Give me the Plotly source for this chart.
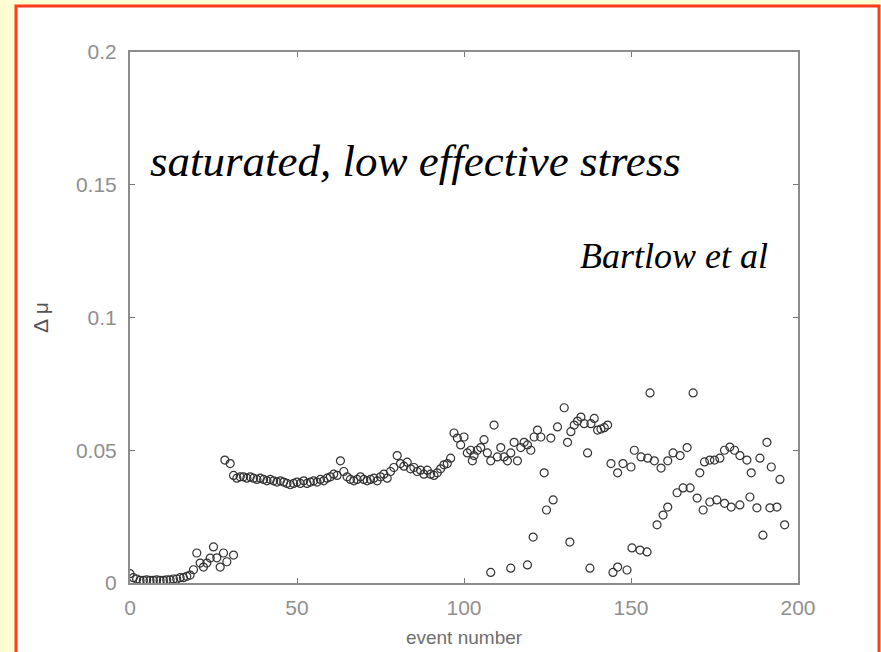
import plotly.graph_objects as go

# ---- data ----
early_x = list(range(0, 19))
early_y = [0.0035, 0.002, 0.0015, 0.001, 0.001, 0.0012, 0.001, 0.001, 0.0012, 0.001,
           0.001, 0.0012, 0.0012, 0.0015, 0.0015, 0.002, 0.002, 0.0025, 0.003]

rise_x = [19, 20, 21, 22, 23, 24, 25, 26, 27, 28, 29, 31]
rise_y = [0.005, 0.0113, 0.0075, 0.006, 0.0075, 0.0094, 0.0136, 0.0095, 0.006, 0.0113, 0.008, 0.0105]

plateau_x = [28.4, 30] + list(range(31, 102))
plateau_y = [0.0463, 0.045,
             0.0405, 0.0395, 0.040, 0.040, 0.0395, 0.040, 0.0395, 0.039, 0.0395, 0.039,
             0.0385, 0.039, 0.0385, 0.038, 0.0385, 0.038, 0.0375, 0.037, 0.0375, 0.038,
             0.0375, 0.0385, 0.0375, 0.038, 0.0385, 0.038, 0.039, 0.0385, 0.0395, 0.040,
             0.041, 0.0405, 0.046, 0.042, 0.040, 0.039, 0.0385, 0.039, 0.040, 0.039,
             0.0385, 0.039, 0.0395, 0.0385, 0.040, 0.041, 0.0395, 0.042, 0.0435, 0.048,
             0.045, 0.044, 0.0455, 0.043, 0.0435, 0.042, 0.0425, 0.041, 0.0425, 0.041,
             0.0405, 0.0415, 0.043, 0.0445, 0.045, 0.047, 0.0565, 0.0546, 0.052, 0.055,
             0.049]

upper_x = [102, 102.5, 103, 104, 105, 106, 107, 108, 109, 110, 111, 112, 113, 114, 115,
           116, 117, 118, 119, 120, 121, 122, 123, 124, 126, 128, 130, 131, 132, 133,
           134, 135, 136, 137, 138, 139, 140, 141, 142, 143, 144, 146, 147.6, 150, 151,
           153, 155, 155.7, 157, 159, 161, 162.6, 164.7, 166.8, 168.6, 170.6, 172, 173.6,
           175, 176.6, 178, 179.6, 181, 182.6, 184.7, 186, 188.6, 190.7, 192, 194.6]
upper_y = [0.050, 0.046, 0.048, 0.050, 0.051, 0.054, 0.049, 0.046, 0.0595, 0.0475, 0.051,
           0.0475, 0.046, 0.049, 0.053, 0.046, 0.051, 0.053, 0.052, 0.050, 0.055, 0.0576,
           0.055, 0.0415, 0.0546, 0.0588, 0.066, 0.053, 0.057, 0.0595, 0.061, 0.0625,
           0.060, 0.049, 0.060, 0.062, 0.0576, 0.058, 0.0585, 0.0595, 0.045, 0.0415,
           0.045, 0.0437, 0.050, 0.0475, 0.047, 0.0716, 0.046, 0.0433, 0.046, 0.049,
           0.048, 0.051, 0.0716, 0.0415, 0.0456, 0.0463, 0.0463, 0.047, 0.050, 0.0512,
           0.050, 0.048, 0.0463, 0.0415, 0.047, 0.053, 0.0437, 0.039]

lower_x = [108, 114, 119, 120.7, 124.7, 126.7, 131.7, 137.7, 144.6, 146, 148.8, 150.3,
           152.7, 154.8, 157.8, 159.6, 161, 163.8, 165.6, 167.7, 169.8, 171.6, 173.6,
           175.7, 178, 180, 182.6, 185.6, 187.7, 189.5, 191.6, 193.7, 196]
lower_y = [0.004, 0.0056, 0.0068, 0.0173, 0.0275, 0.0313, 0.0154, 0.0056, 0.004, 0.006,
           0.0049, 0.0132, 0.0124, 0.0117, 0.0219, 0.0256, 0.0286, 0.034, 0.0358, 0.0358,
           0.032, 0.0275, 0.0305, 0.0313, 0.030, 0.0286, 0.0294, 0.0324, 0.0283, 0.018,
           0.0283, 0.0286, 0.0219]

event_number = early_x + rise_x + plateau_x + upper_x + lower_x
delta_mu = early_y + rise_y + plateau_y + upper_y + lower_y

x_ticks = [0, 50, 100, 150, 200]
y_ticks = [0, 0.05, 0.1, 0.15, 0.2]
y_tick_labels = ["0", "0.05", "0.1", "0.15", "0.2"]

# ---- figure ----
W, H = 881, 652
L, R, T, B = 130, 83, 52, 69
pw, ph = W - L - R, H - T - B

def px_x(px):
    return (px - L) / pw

def px_y(py):
    return (H - B - py) / ph

fig = go.Figure()
fig.add_trace(go.Scatter(
    x=event_number, y=delta_mu, mode="markers",
    marker=dict(symbol="circle-open", size=8, color="#333333", line=dict(width=1.2)),
    showlegend=False, hoverinfo="x+y",
))

axis_font = dict(family="Liberation Sans, Arial, sans-serif", size=21, color="#8f8f8f")
title_font = dict(family="Liberation Sans, Arial, sans-serif", size=19, color="#6e6e6e")
ytitle_font = dict(family="Liberation Sans, Arial, sans-serif", size=21, color="#555555")

fig.update_xaxes(
    range=[0, 200], tickvals=x_ticks, ticks="inside", ticklen=5, tickcolor="#777",
    mirror="ticks", showline=True, linecolor="#8c8c8c", linewidth=2,
    showgrid=False, zeroline=False, tickfont=axis_font, ticklabelstandoff=5,
    automargin=False,
    title=dict(text="event number", font=title_font, standoff=12),
)
fig.update_yaxes(
    range=[0, 0.2], tickvals=y_ticks, ticktext=y_tick_labels, ticks="inside", ticklen=5,
    tickcolor="#777", mirror="ticks", showline=True, linecolor="#8c8c8c", linewidth=2,
    showgrid=False, zeroline=False, tickfont=axis_font, ticklabelstandoff=7,
    automargin=False,
    title=dict(text="\u0394 \u03bc", font=ytitle_font, standoff=22),
)

fig.add_shape(
    type="rect", xref="paper", yref="paper", layer="below",
    x0=px_x(16), x1=px_x(879), y0=px_y(670), y1=px_y(6),
    fillcolor="white", line=dict(color="#FF3B1A", width=3),
)

fig.add_annotation(
    x=5.4, y=0.159, xref="x", yref="y", xanchor="left", yanchor="middle",
    text="<i>saturated, low effective stress</i>", showarrow=False,
    font=dict(family="Liberation Serif, Times New Roman, serif", size=45, color="black"),
)
fig.add_annotation(
    x=191.6, y=0.1232, xref="x", yref="y", xanchor="right", yanchor="middle",
    text="<i>Bartlow et al</i>", showarrow=False,
    font=dict(family="Liberation Serif, Times New Roman, serif", size=36, color="black"),
)

fig.update_layout(
    width=W, height=H, margin=dict(l=L, r=R, t=T, b=B),
    paper_bgcolor="#FFFDD2", plot_bgcolor="white",
)

fig.write_html("out.html")
